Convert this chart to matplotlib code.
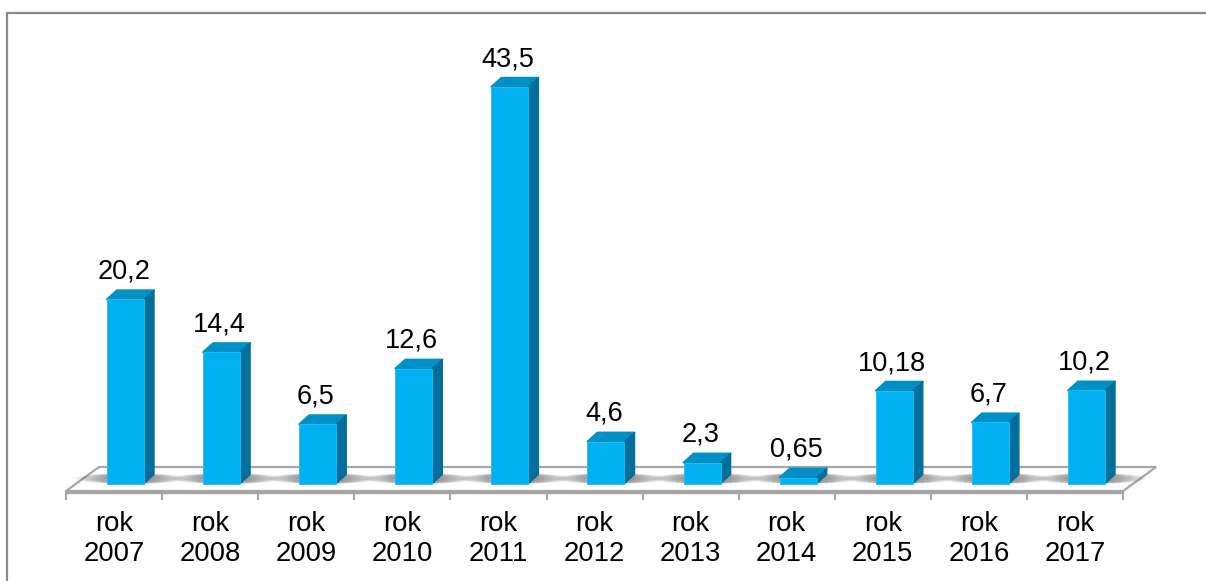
import matplotlib
matplotlib.use("Agg")
import matplotlib.pyplot as plt
from matplotlib.lines import Line2D
from matplotlib.patches import Ellipse, Polygon

plt.rcParams['font.family'] = ['Liberation Sans', 'DejaVu Sans']

#DATA
years = ['2007', '2008', '2009', '2010', '2011', '2012', '2013', '2014', '2015', '2016', '2017']
values = [20.2, 14.4, 6.5, 12.6, 43.5, 4.6, 2.3, 0.65, 10.18, 6.7, 10.2]
value_labels = ['20,2', '14,4', '6,5', '12,6', '43,5', '4,6', '2,3', '0,65', '10,18', '6,7', '10,2']

#COLOURS
FRONT = '#00b0f0'
TOP = '#0090c6'
SIDE = '#006f9c'
FLOOR = '#a6a6a6'
FRAME = '#8a8a8a'

#SCALES (pixels of the 1206x581 canvas)
PX_STEP = 96.1
PX_X0 = 125.5
PX_BASE = 483.5
PX_UNIT = 9.12

fig = plt.figure(figsize=(12.06, 5.81), dpi=100, facecolor='white')
ax = fig.add_axes([0, 0, 1, 1])
ax.set_xlim(-PX_X0 / PX_STEP, (1206 - PX_X0) / PX_STEP)
ax.set_ylim((PX_BASE - 581) / PX_UNIT, PX_BASE / PX_UNIT)
ax.axis('off')

width = 37 / PX_STEP
dx = 10 / PX_STEP
dy = 9 / PX_UNIT

#floor
fl_left = -0.619
fl_right = fl_left + len(years)
fl_front = -7.5 / PX_UNIT
fl_back = 16.5 / PX_UNIT
fl_dx = 33 / PX_STEP
ax.add_patch(Polygon([(fl_left, fl_front), (fl_right, fl_front), (fl_right + fl_dx, fl_back), (fl_left + fl_dx, fl_back)],
                     closed=True, facecolor='white', edgecolor=FLOOR, linewidth=1.6, zorder=1))
ax.plot([fl_left, fl_right], [fl_front - 0.12, fl_front - 0.12], color=FLOOR, lw=2.4, zorder=1.1, solid_capstyle='butt')
for i in range(len(years) + 1):
    ax.plot([fl_left + i, fl_left + i], [fl_front, fl_front - 0.85], color=FLOOR, lw=1.5, zorder=1.1)

#shadows either side of the bars
for i in range(len(years)):
    for k in range(16):
        t = k / 15
        ax.add_patch(Ellipse((i + 0.05, 0.55), width + 0.06 + 0.72 * t, 1.15,
                             facecolor='#606060', edgecolor='none', alpha=0.06, zorder=1.5))

#bars
ax.bar(range(len(years)), values, width=width, color=FRONT, edgecolor='#25bdf2', linewidth=0.6, zorder=3)
for i, v in enumerate(values):
    l = i - width / 2
    r = i + width / 2
    ax.add_patch(Polygon([(l, v), (r, v), (r + dx, v + dy), (l + dx, v + dy)], closed=True,
                         facecolor=TOP, edgecolor=TOP, linewidth=1.4, joinstyle='round', zorder=2.9))
    ax.add_patch(Polygon([(r, 0), (r + dx, dy), (r + dx, v + dy), (r, v)], closed=True,
                         facecolor=SIDE, edgecolor=SIDE, linewidth=1.0, joinstyle='round', zorder=2.9))
    ax.text(i - 0.02, v + 1.6, value_labels[i], ha='center', va='bottom', fontsize=19.5, color='black', zorder=4)
    ax.text(i - 0.12, -4.4, 'rok', ha='center', va='center', fontsize=19.8, color='black')
    ax.text(i - 0.12, -7.75, years[i], ha='center', va='center', fontsize=19.8, color='black')

#outer frame, open on the right and at the bottom
fig.add_artist(Line2D([7 / 1206, 7 / 1206, 1], [0, 1 - 13 / 581, 1 - 13 / 581], color=FRAME, lw=1.6,
                      solid_joinstyle='miter'))

plt.savefig('out.png', dpi=100, facecolor='white')
